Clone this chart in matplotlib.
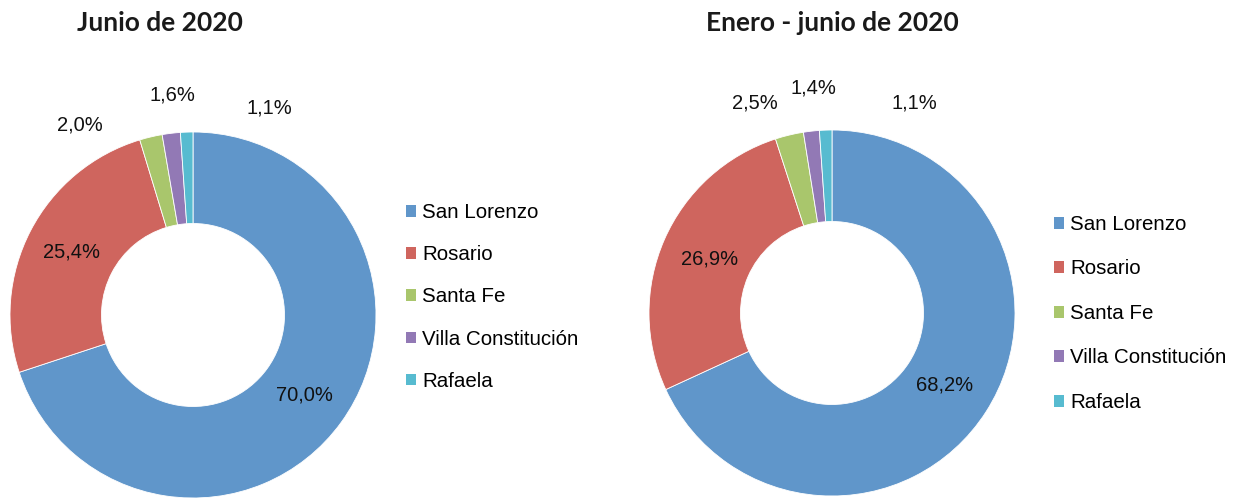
import matplotlib
matplotlib.use("Agg")
import matplotlib.pyplot as plt
import numpy as np
from matplotlib.patches import Patch

plt.rcParams['font.family'] = ['Liberation Sans', 'DejaVu Sans']

categorias = ["San Lorenzo", "Rosario", "Santa Fe", "Villa Constitución", "Rafaela"]
colores = ["#6096CA", "#CF655E", "#A9C66C", "#9279B5", "#57BBD0"]

junio_2020 = [70.0, 25.4, 2.0, 1.6, 1.1]
enero_junio_2020 = [68.2, 26.9, 2.5, 1.4, 1.1]

titulos = ["Junio de 2020", "Enero - junio de 2020"]

W, H = 1243, 498
fig = plt.figure(figsize=(W / 100, H / 100), dpi=100)

# centro del anillo (px), radio (px), posición de la leyenda, separación de filas
layouts = [
    dict(cx=193, cy=315, r=183, tx=160, leg=(406, 203), sp=1.13,
         small=[(-0.62, 1.04), (-0.115, 1.20), (0.42, 1.13)], dist=0.75),
    dict(cx=832, cy=313, r=183, tx=832, leg=(1054, 215), sp=1.24,
         small=[(-0.42, 1.15), (-0.10, 1.23), (0.45, 1.15)], dist=0.73),
]


def fmt(v):
    return f"{v:.1f}%".replace(".", ",")


for valores, titulo, lay in zip([junio_2020, enero_junio_2020], titulos, layouts):
    s = 1.35 * lay["r"]
    ax = fig.add_axes([(lay["cx"] - s) / W, (H - lay["cy"] - s) / H, 2 * s / W, 2 * s / H])
    wedges, _ = ax.pie(valores, colors=colores, startangle=90, counterclock=False,
                       radius=1.0, wedgeprops=dict(width=0.5, edgecolor="white", linewidth=0.6))
    ax.set_xlim(-1.35, 1.35)
    ax.set_ylim(-1.35, 1.35)
    ax.set_aspect("equal")
    ax.axis("off")

    # etiquetas de los dos sectores grandes
    for w, v in zip(wedges[:2], valores[:2]):
        ang = np.deg2rad((w.theta1 + w.theta2) / 2)
        ax.text(lay["dist"] * np.cos(ang), lay["dist"] * np.sin(ang), fmt(v),
                ha="center", va="center", fontsize=14.5, color="#111111")
    # etiquetas de los sectores chicos, por fuera
    for (x, y), v in zip(lay["small"], valores[2:]):
        ax.text(x, y, fmt(v), ha="center", va="center", fontsize=14.5, color="#111111")

    fig.text(lay["tx"] / W, 1 - 23 / H, titulo,
             ha="center", va="center", fontsize=19, fontweight="bold",
             family=["Lato", "DejaVu Sans"], color="#1a1a1a")

    handles = [Patch(facecolor=c, edgecolor="none") for c in colores]
    lx, ly = lay["leg"]
    fig.legend(handles, categorias, loc="upper left", bbox_to_anchor=(lx / W, 1 - ly / H),
               frameon=False, fontsize=14.8, handlelength=0.5, handleheight=0.5,
               handletextpad=0.3, labelspacing=lay["sp"], borderaxespad=0, borderpad=0)

fig.savefig("out.png", dpi=100)
